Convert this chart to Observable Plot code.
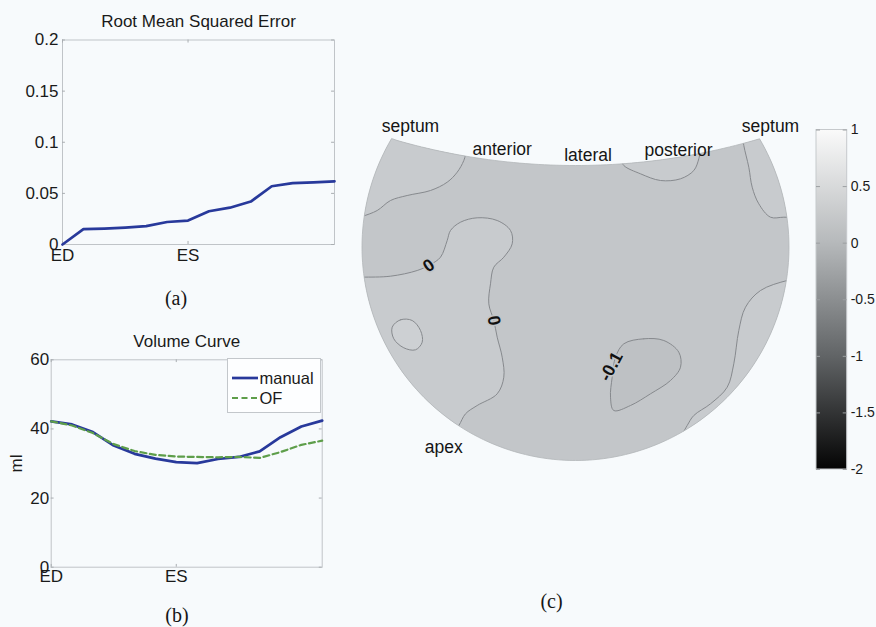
<!DOCTYPE html>
<html><head><meta charset="utf-8">
<script src="https://cdn.jsdelivr.net/npm/d3@7"></script>
<script src="https://cdn.jsdelivr.net/npm/@observablehq/plot@0.6"></script>
<style>
html,body{margin:0;padding:0;background:#f7fafc;}
#wrap{position:relative;width:876px;height:627px;overflow:hidden;font-family:"Liberation Sans",Arial,Helvetica,sans-serif;}
.panel{position:absolute;}
.panel svg{overflow:visible;}
.cap{position:absolute;font-family:"Liberation Serif","Times New Roman",serif;font-size:20px;line-height:20px;color:#151515;transform:translateX(-50%);white-space:nowrap;}
.legend{position:absolute;left:227px;top:358px;width:92px;height:53px;border:1px solid #c3c7cb;background:#fdfeff;}
</style></head><body><div id="wrap"></div>
<script>
// ---------- data: panel (a) and (b) ----------
const frames = [0,1,2,3,4,5,6,7,8,9,10,11,12,13];
const frameTicks = [0, 6];
const frameTickLabels = ["ED", "ES"];
const rmse = [0, 0.015, 0.0156, 0.0166, 0.018, 0.022, 0.0234, 0.0325, 0.036, 0.042, 0.057, 0.060, 0.0608, 0.0618];
const rmseTicks = [0, 0.05, 0.1, 0.15, 0.2];
const volManual = [42.2, 41.3, 39.1, 35.2, 32.8, 31.4, 30.4, 30.1, 31.3, 31.9, 33.5, 37.6, 40.7, 42.4];
const volOF     = [42.2, 41.0, 38.8, 35.6, 33.6, 32.5, 32.0, 31.9, 31.8, 31.9, 31.6, 33.3, 35.4, 36.6];
const volTicks = [0, 20, 40, 60];
const seriesNames = ["manual", "OF"];
const titles = ["Root Mean Squared Error", "Volume Curve"];
const yLabelB = "ml";
const captions = ["(a)", "(b)", "(c)"];

// ---------- data: panel (c) polar map (map units, disk radius 213.5) ----------
const diskRadius = 213.5, topArcCenter = 729.3, topArcRadius = 647.8;
const contourTopLeft = [[-109,96.5],[-111.7,86.5],[-118.3,74.8],[-128.3,64.8],[-145,56.5],[-168.3,51.5],[-185,46.5],[-198.3,36.5],[-213.3,30.5],[-225,26.5]];
const cornersTopLeft = [[-240,30],[-240,200],[-109,200]];
const contourLeftLobe = [[-225,-30.5],[-213.3,-30.2],[-185,-29.2],[-158.3,-23.5],[-145,-17.5],[-135,-10.2],[-128.3,6.5],[-125,16.5],[-115,24.8],[-98.3,29.2],[-78.3,26.5],[-65,16.5],[-63.3,3.2],[-71.7,-10.2],[-81.7,-20.2],[-85,-36.8],[-86.7,-56.8],[-81.7,-73.5],[-78.3,-90.2],[-73.3,-110.2],[-71.7,-130.2],[-78.3,-146.8],[-98.3,-158.5],[-110,-166.8],[-116.7,-178.5],[-125,-188.5]];
const cornersLeftLobe = [[-240,-240],[-240,-30.5]];
const contourTopRight = [[45,88.5],[48.3,81.5],[65,73.2],[85,66.5],[105,68.2],[118.3,76.5],[123.3,88.2],[125,98.5]];
const cornersTopRight = [[125,150],[45,150]];
const contourRightStrip = [[167,111.5],[168.3,101.5],[173.3,79.8],[176.7,59.8],[183.3,43.2],[195,29.8],[208.3,29.8],[225,29.5]];
const cornersRightStrip = [[240,29.5],[240,150],[167,150]];
const contourRightLower = [[225,-31.5],[211.7,-33.5],[185,-43.5],[170,-60.2],[163.3,-83.5],[158.3,-116.8],[151.7,-140.2],[135,-156.8],[118.3,-168.5],[111.7,-178.5],[105,-190.5]];
const cornersRightLower = [[240,-240],[240,-31.5]];
const contourMinus = [[48.3,-96.8],[68.3,-91.8],[88.3,-93.5],[103.3,-105.2],[105,-120.2],[95,-133.5],[75,-146.8],[55,-158.5],[38.3,-163.5],[35,-150.2],[36.7,-130.2],[40,-110.2]];
const contourEllipse = [[-183.3,-80.2],[-175,-72.8],[-163.3,-73.5],[-155,-83.5],[-153.3,-95.2],[-160,-102.8],[-171.7,-100.8],[-181.7,-91.8]];
const baseLevel = -0.05, aboveLevel = 0.05, belowLevel = -0.15, innerLevel = 0.15;
const contourLabelText = ["0", "0", "-0.1"];
const contourLabelPos = [[-146.7,-18.5], [-81.7,-73.5], [35.7,-119.5]];
const contourLabelAngle = [-35, 80, -62];
const regionNames = ["septum", "anterior", "lateral", "posterior", "septum", "apex"];
const regionNamePos = [[-165,114.8], [-73.3,92.2], [12.5,85.8], [103,91.5], [195,114.8], [-131.7,-206]];
const colorbarDomain = [-2, 1];
const colorbarTicks = [1, 0.5, 0, -0.5, -1, -1.5, -2];

// ---------- styling ----------
const FONT = '"Liberation Sans", Arial, Helvetica, sans-serif';
const blue = "#28399b", green = "#5e9e4a";
const axisGray = "#c0c4c8", tickGray = "#a9adb1";
const baseStyle = {background: "transparent", fontFamily: FONT, color: "#1a1a1a", overflow: "visible"};
const ns = "http://www.w3.org/2000/svg";
const wrap = document.getElementById("wrap");
function place(node, left, top, w, h) {
  const d = document.createElement("div");
  d.className = "panel";
  Object.assign(d.style, {left: left + "px", top: top + "px", width: w + "px", height: h + "px"});
  d.appendChild(node); wrap.appendChild(d); return d;
}

// ---------- (a) ----------
const tableA = frames.map((f, i) => ({frame: f, rmse: rmse[i]}));
const chartA = Plot.plot({
  width: 345, height: 280, marginLeft: 62, marginRight: 11, marginTop: 39.5, marginBottom: 36,
  style: baseStyle,
  x: {domain: [frames[0], frames[frames.length - 1]], label: null},
  y: {domain: [rmseTicks[0], rmseTicks[rmseTicks.length - 1]], label: null},
  marks: [
    Plot.frame({stroke: axisGray}),
    Plot.ruleY(rmseTicks, {y: d => d, x1: 0, x2: 0.14, stroke: tickGray}),
    Plot.ruleY(rmseTicks, {y: d => d, x1: 12.86, x2: 13, stroke: tickGray}),
    Plot.ruleX(frameTicks, {x: d => d, y1: 0, y2: 0.003, stroke: tickGray}),
    Plot.ruleX(frameTicks, {x: d => d, y1: 0.197, y2: 0.2, stroke: tickGray}),
    Plot.axisY({ticks: rmseTicks, tickSize: 0, tickPadding: 4, tickFormat: d => String(d), fontSize: 17, label: null}),
    Plot.axisX({ticks: frameTicks, tickSize: 0, tickPadding: 4, tickFormat: d => frameTickLabels[frameTicks.indexOf(d)], fontSize: 17, label: null}),
    Plot.line(tableA, {x: "frame", y: "rmse", stroke: blue, strokeWidth: 2.7}),
    Plot.text([titles[0]], {text: d => d, frameAnchor: "top", lineAnchor: "bottom", dy: -13.5, fontSize: 17})
  ]
});
place(chartA, 0, 0, 345, 280);

// ---------- (b) ----------
const tableB = frames.map((f, i) => ({frame: f, manual: volManual[i], of: volOF[i]}));
const chartB = Plot.plot({
  width: 345, height: 307, marginLeft: 50.7, marginRight: 23.3, marginTop: 39.3, marginBottom: 60.3,
  style: baseStyle,
  x: {domain: [frames[0], frames[frames.length - 1]], label: null},
  y: {domain: [volTicks[0], volTicks[volTicks.length - 1]], label: null},
  marks: [
    Plot.frame({stroke: axisGray}),
    Plot.ruleY(volTicks, {y: d => d, x1: 0, x2: 0.14, stroke: tickGray}),
    Plot.ruleY(volTicks, {y: d => d, x1: 12.86, x2: 13, stroke: tickGray}),
    Plot.ruleX(frameTicks, {x: d => d, y1: 0, y2: 0.8, stroke: tickGray}),
    Plot.ruleX(frameTicks, {x: d => d, y1: 59.2, y2: 60, stroke: tickGray}),
    Plot.axisY({ticks: volTicks, tickSize: 0, tickPadding: 2, tickFormat: d => String(d), fontSize: 17, label: null}),
    Plot.axisX({ticks: frameTicks, tickSize: 0, tickPadding: 3, tickFormat: d => frameTickLabels[frameTicks.indexOf(d)], fontSize: 17, label: null}),
    Plot.line(tableB, {x: "frame", y: "manual", stroke: blue, strokeWidth: 2.7}),
    Plot.line(tableB, {x: "frame", y: "of", stroke: green, strokeWidth: 2.2, strokeDasharray: "6,3.5"}),
    Plot.text([titles[1]], {text: d => d, frameAnchor: "top", lineAnchor: "bottom", dy: -13.3, fontSize: 17}),
    Plot.text([yLabelB], {text: d => d, frameAnchor: "left", dx: -35, rotate: -90, textAnchor: "middle", lineAnchor: "middle", fontSize: 17})
  ]
});
place(chartB, 0, 320, 345, 307);

// legend for (b)
const leg = document.createElement("div");
leg.className = "legend";
const legSvg = document.createElementNS(ns, "svg");
legSvg.setAttribute("width", 92); legSvg.setAttribute("height", 53);
legSvg.style.fontFamily = FONT; legSvg.style.fontSize = "16.5px";
const legStyles = [{stroke: blue, width: 2.7, dash: null}, {stroke: green, width: 2.2, dash: "6,3.5"}];
seriesNames.forEach((name, i) => {
  const yy = 19 + i * 20;
  const ln = document.createElementNS(ns, "line");
  ln.setAttribute("x1", 4); ln.setAttribute("x2", 30); ln.setAttribute("y1", yy); ln.setAttribute("y2", yy);
  ln.setAttribute("stroke", legStyles[i].stroke); ln.setAttribute("stroke-width", legStyles[i].width);
  if (legStyles[i].dash) ln.setAttribute("stroke-dasharray", legStyles[i].dash);
  legSvg.appendChild(ln);
  const tx = document.createElementNS(ns, "text");
  tx.setAttribute("x", 31.5); tx.setAttribute("y", yy + 5.5); tx.setAttribute("fill", "#1a1a1a");
  tx.textContent = name; legSvg.appendChild(tx);
});
leg.appendChild(legSvg);
wrap.appendChild(leg);

// ---------- (c) polar map ----------
const yi = (diskRadius ** 2 - topArcRadius ** 2 + topArcCenter ** 2) / (2 * topArcCenter);
const xi = Math.sqrt(diskRadius ** 2 - yi ** 2);
const a0 = Math.atan2(yi, -xi), a1 = Math.atan2(yi, xi) + 2 * Math.PI;
const b0 = Math.atan2(yi - topArcCenter, xi), b1 = Math.atan2(yi - topArcCenter, -xi);
const diskOutline = [];
for (let k = 0; k <= 160; k++) { const a = a0 + (a1 - a0) * k / 160; diskOutline.push([diskRadius * Math.cos(a), diskRadius * Math.sin(a)]); }
for (let k = 1; k < 60; k++) { const b = b0 + (b1 - b0) * k / 60; diskOutline.push([topArcRadius * Math.cos(b), topArcCenter + topArcRadius * Math.sin(b)]); }

const openRegions = [
  {id: "topLeft", contour: contourTopLeft, corners: cornersTopLeft, level: aboveLevel},
  {id: "leftLobe", contour: contourLeftLobe, corners: cornersLeftLobe, level: aboveLevel},
  {id: "topRight", contour: contourTopRight, corners: cornersTopRight, level: aboveLevel},
  {id: "rightStrip", contour: contourRightStrip, corners: cornersRightStrip, level: aboveLevel},
  {id: "rightLower", contour: contourRightLower, corners: cornersRightLower, level: aboveLevel}
];
const closedRegions = [
  {id: "minus", contour: contourMinus, level: belowLevel},
  {id: "ellipse", contour: contourEllipse, level: innerLevel}
];
const openFill = openRegions.flatMap(r => [...r.contour, ...r.corners].map(p => ({id: r.id, level: r.level, x: p[0], y: p[1]})));
const openLines = openRegions.flatMap(r => r.contour.map(p => ({id: r.id, x: p[0], y: p[1]})));
const closedPts = closedRegions.flatMap(r => r.contour.map(p => ({id: r.id, level: r.level, x: p[0], y: p[1]})));
const contourLabels = contourLabelText.map((t, i) => ({text: t, x: contourLabelPos[i][0], y: contourLabelPos[i][1], angle: contourLabelAngle[i]}));
const regionLabels = regionNames.map((t, i) => ({text: t, x: regionNamePos[i][0], y: regionNamePos[i][1]}));
const contourColor = "#86898d";

const mapSvg = Plot.plot({
  width: 450, height: 370, margin: 0,
  style: baseStyle,
  x: {domain: [-225, 225], axis: null},
  y: {domain: [-223.5, 146.5], axis: null},
  color: {type: "linear", domain: [-0.2, 0.2], range: ["#bbbec1", "#cfd2d5"], interpolate: "rgb"},
  marks: [
    Plot.line(diskOutline, {x: d => d[0], y: d => d[1], fill: () => baseLevel, stroke: "none", curve: "linear-closed"}),
    Plot.line(openFill, {x: "x", y: "y", z: "id", fill: "level", stroke: "none", curve: "catmull-rom"}),
    Plot.line(closedPts, {x: "x", y: "y", z: "id", fill: "level", stroke: "none", curve: "catmull-rom-closed"}),
    Plot.line(openLines, {x: "x", y: "y", z: "id", stroke: contourColor, strokeWidth: 1, curve: "catmull-rom"}),
    Plot.line(closedPts, {x: "x", y: "y", z: "id", stroke: contourColor, strokeWidth: 1, curve: "catmull-rom-closed"}),
    Plot.line(diskOutline, {x: d => d[0], y: d => d[1], stroke: "#b3b6b9", strokeWidth: 0.8, curve: "linear-closed"}),
    Plot.text(contourLabels, {x: "x", y: "y", text: "text", rotate: "angle", fontSize: 17.5, fontWeight: "bold", fill: "#111", stroke: "#c2c5c8", strokeWidth: 3, paintOrder: "stroke"}),
    Plot.text(regionLabels, {x: "x", y: "y", text: "text", fontSize: 17.5, lineAnchor: "bottom", fill: "#151515"})
  ]
});
{
  const gs = mapSvg.querySelectorAll(":scope > g");
  const diskD = gs[0].querySelector("path").getAttribute("d");
  const defs = document.createElementNS(ns, "defs");
  const cp = document.createElementNS(ns, "clipPath"); cp.setAttribute("id", "diskClip");
  const cpp = document.createElementNS(ns, "path"); cpp.setAttribute("d", diskD);
  cp.appendChild(cpp); defs.appendChild(cp); mapSvg.insertBefore(defs, mapSvg.firstChild);
  [1, 2, 3, 4].forEach(i => gs[i] && gs[i].setAttribute("clip-path", "url(#diskClip)"));
}
place(mapSvg, 350, 100, 450, 370);

// ---------- colorbar ----------
const cbar = Plot.plot({
  width: 76, height: 360, marginLeft: 16, marginRight: 29.3, marginTop: 9.5, marginBottom: 11,
  style: baseStyle,
  x: {domain: [0, 1], axis: null},
  y: {domain: colorbarDomain, label: null},
  marks: [
    Plot.rect([{lo: colorbarDomain[0], hi: colorbarDomain[1]}], {x1: 0, x2: 1, y1: "lo", y2: "hi", fill: "url(#cbGrad)", stroke: "#c6c9cc"}),
    Plot.ruleY(colorbarTicks, {y: d => d, x1: 0, x2: 0.13, stroke: "#9c9fa2"}),
    Plot.ruleY(colorbarTicks, {y: d => d, x1: 0.87, x2: 1, stroke: "#9c9fa2"}),
    Plot.axisY({anchor: "right", ticks: colorbarTicks, tickSize: 0, tickPadding: 3.5, tickFormat: d => String(d), fontSize: 14, label: null})
  ]
});
{
  const defs = document.createElementNS(ns, "defs");
  const lg = document.createElementNS(ns, "linearGradient");
  lg.setAttribute("id", "cbGrad"); lg.setAttribute("x1", 0); lg.setAttribute("y1", 1); lg.setAttribute("x2", 0); lg.setAttribute("y2", 0);
  [[0, "#040404"], [0.333, "#616466"], [0.667, "#b6b9bb"], [1, "#fafafa"]].forEach(([o, c]) => {
    const s = document.createElementNS(ns, "stop"); s.setAttribute("offset", o); s.setAttribute("stop-color", c); lg.appendChild(s);
  });
  defs.appendChild(lg); cbar.insertBefore(defs, cbar.firstChild);
}
place(cbar, 800, 120, 76, 360);

// ---------- captions ----------
const capPos = [[176, 288], [177, 605], [551.5, 591]];
captions.forEach((c, i) => {
  const d = document.createElement("div");
  d.className = "cap"; d.textContent = c;
  d.style.left = capPos[i][0] + "px"; d.style.top = capPos[i][1] + "px";
  wrap.appendChild(d);
});
</script></body></html>
